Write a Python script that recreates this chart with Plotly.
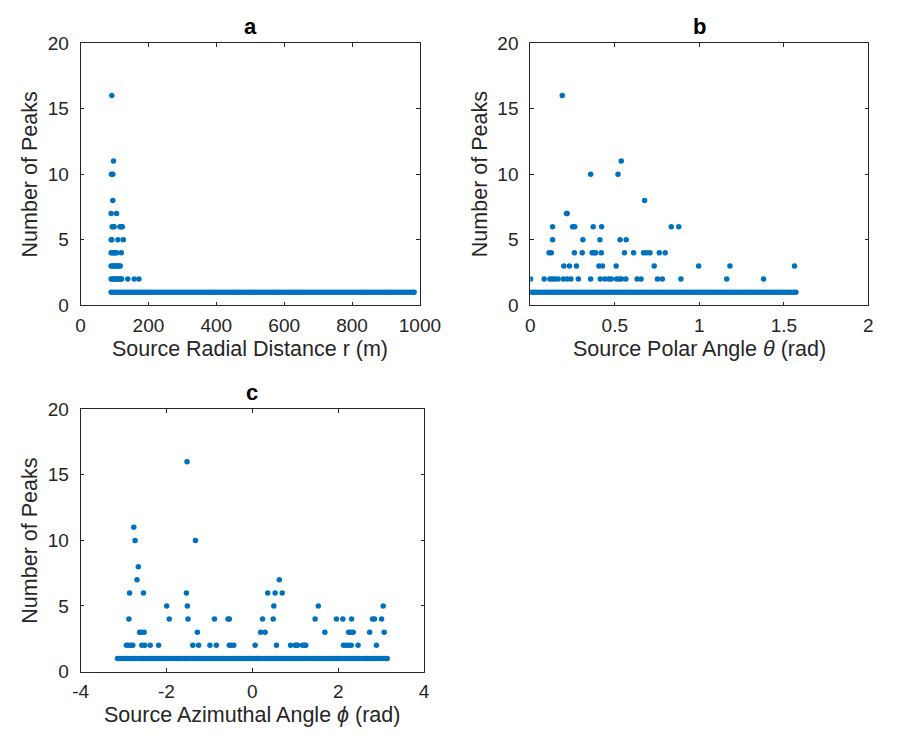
import plotly.graph_objects as go

# ---------------- data ----------------
# Panel a: source radial distance r (m) vs number of peaks
a_band_r = [90, 97, 104, 111, 118, 125, 132, 139, 146, 153, 160, 167, 174, 181, 188, 195, 202, 209, 216, 223,
            230, 237, 244, 251, 258, 265, 272, 279, 286, 293, 300, 307, 314, 321, 328, 335, 342, 349, 356, 363,
            370, 377, 384, 391, 398, 405, 412, 419, 426, 433, 440, 447, 454, 461, 468, 475, 482, 489, 496, 503,
            510, 517, 524, 531, 538, 545, 552, 559, 566, 573, 580, 587, 594, 601, 608, 615, 622, 629, 636, 643,
            650, 657, 664, 671, 678, 685, 692, 699, 706, 713, 720, 727, 734, 741, 748, 755, 762, 769, 776, 783,
            790, 797, 804, 811, 818, 825, 832, 839, 846, 853, 860, 867, 874, 881, 888, 895, 902, 909, 916, 923,
            930, 937, 944, 951, 958, 965, 972, 979, 983]
a_multi_r = [92, 97, 91, 95, 95, 90, 106,
             93, 96, 99, 116, 120, 123,
             90, 92, 110, 126,
             90, 94, 98, 102, 106, 120,
             90, 94, 98, 102, 106, 110, 114, 117,
             90, 94, 98, 102, 106, 110, 114, 118, 121, 139, 158, 172]
a_multi_n = [16, 11, 10, 10, 8, 7, 7,
             6, 6, 6, 6, 6, 6,
             5, 5, 5, 5,
             4, 4, 4, 4, 4, 4,
             3, 3, 3, 3, 3, 3, 3, 3,
             2, 2, 2, 2, 2, 2, 2, 2, 2, 2, 2, 2]

# Panel b: source polar angle theta (rad) vs number of peaks
b_band_theta = [0.000, 0.015, 0.030, 0.045, 0.060, 0.075, 0.090, 0.105, 0.120, 0.135, 0.150, 0.165, 0.180,
                0.195, 0.210, 0.225, 0.240, 0.255, 0.270, 0.285, 0.300, 0.315, 0.330, 0.345, 0.360, 0.375,
                0.390, 0.405, 0.420, 0.435, 0.450, 0.465, 0.480, 0.495, 0.510, 0.525, 0.540, 0.555, 0.570,
                0.585, 0.600, 0.615, 0.630, 0.645, 0.660, 0.675, 0.690, 0.705, 0.720, 0.735, 0.750, 0.765,
                0.780, 0.795, 0.810, 0.825, 0.840, 0.855, 0.870, 0.885, 0.900, 0.915, 0.930, 0.945, 0.960,
                0.975, 0.990, 1.005, 1.020, 1.035, 1.050, 1.065, 1.080, 1.095, 1.110, 1.125, 1.140, 1.155,
                1.170, 1.185, 1.200, 1.215, 1.230, 1.245, 1.260, 1.275, 1.290, 1.305, 1.320, 1.335, 1.350,
                1.365, 1.380, 1.395, 1.410, 1.425, 1.440, 1.455, 1.470, 1.485, 1.500, 1.515, 1.530, 1.545,
                1.560, 1.571]
b_multi_theta = [0.189, 0.538, 0.357, 0.519, 0.676, 0.214, 0.218,
                 0.132, 0.250, 0.263, 0.372, 0.422, 0.834, 0.878,
                 0.132, 0.311, 0.412, 0.531, 0.567,
                 0.111, 0.124, 0.261, 0.307, 0.366, 0.378, 0.387, 0.420, 0.557, 0.611, 0.670, 0.687, 0.708,
                 0.763, 0.798,
                 0.198, 0.231, 0.273, 0.406, 0.427, 0.508, 0.733, 0.996, 1.181, 1.563,
                 0.002, 0.082, 0.116, 0.130, 0.147, 0.164, 0.195, 0.218, 0.240, 0.284, 0.357, 0.414, 0.441,
                 0.464, 0.479, 0.510, 0.525, 0.540, 0.565, 0.632, 0.655, 0.752, 0.781, 0.891, 1.162, 1.380]
b_multi_n = [16, 11, 10, 10, 8, 7, 7,
             6, 6, 6, 6, 6, 6, 6,
             5, 5, 5, 5, 5,
             4, 4, 4, 4, 4, 4, 4, 4, 4, 4, 4, 4, 4, 4, 4,
             3, 3, 3, 3, 3, 3, 3, 3, 3, 3,
             2, 2, 2, 2, 2, 2, 2, 2, 2, 2, 2, 2, 2, 2, 2, 2, 2, 2, 2, 2, 2, 2, 2, 2, 2, 2]

# Panel c: source azimuthal angle phi (rad) vs number of peaks
c_band_phi = [-3.14, -3.08, -3.02, -2.96, -2.90, -2.84, -2.78, -2.72, -2.66, -2.60, -2.54, -2.48, -2.42,
              -2.36, -2.30, -2.24, -2.18, -2.12, -2.06, -2.00, -1.94, -1.88, -1.82, -1.76, -1.70, -1.64,
              -1.58, -1.52, -1.46, -1.40, -1.34, -1.28, -1.22, -1.16, -1.10, -1.04, -0.98, -0.92, -0.86,
              -0.80, -0.74, -0.68, -0.62, -0.56, -0.50, -0.44, -0.38, -0.32, -0.26, -0.20, -0.14, -0.08,
              -0.02, 0.04, 0.10, 0.16, 0.22, 0.28, 0.34, 0.40, 0.46, 0.52, 0.58, 0.64, 0.70, 0.76, 0.82,
              0.88, 0.94, 1.00, 1.06, 1.12, 1.18, 1.24, 1.30, 1.36, 1.42, 1.48, 1.54, 1.60, 1.66, 1.72,
              1.78, 1.84, 1.90, 1.96, 2.02, 2.08, 2.14, 2.20, 2.26, 2.32, 2.38, 2.44, 2.50, 2.56, 2.62,
              2.68, 2.74, 2.80, 2.86, 2.92, 2.98, 3.04, 3.10, 3.14]
c_multi_phi = [-1.521, -2.761, -2.731, -1.326, -2.656, -2.686, 0.627,
               -2.859, -2.536, -1.536, 0.357, 0.530, 0.695,
               -1.995, -1.514, 0.500, 1.536, 3.046,
               -2.874, -1.935, -1.499, -0.883, -0.567, -0.537, 0.237, 0.485, 1.461, 1.957, 2.107, 2.310,
               2.799, 2.844, 3.009,
               -2.626, -2.581, -2.521, -1.281, 0.192, 0.297, 1.687, 2.243, 2.290, 2.348, 2.731, 3.069,
               -2.934, -2.889, -2.829, -2.784, -2.573, -2.506, -2.378, -2.183, -1.386, -1.251, -0.988,
               -0.838, -0.537, -0.492, -0.432, 0.064, 0.560, 0.890, 0.995, 1.025, 1.055, 1.168, 1.213, 1.243,
               2.122, 2.182, 2.242, 2.302, 2.461, 2.889]
c_multi_n = [16, 11, 10, 10, 8, 7, 7,
             6, 6, 6, 6, 6, 6,
             5, 5, 5, 5, 5,
             4, 4, 4, 4, 4, 4, 4, 4, 4, 4, 4, 4, 4, 4, 4,
             3, 3, 3, 3, 3, 3, 3, 3, 3, 3, 3, 3,
             2, 2, 2, 2, 2, 2, 2, 2, 2, 2, 2, 2, 2, 2, 2, 2, 2, 2, 2, 2, 2, 2, 2, 2, 2, 2, 2, 2, 2, 2]

panel_titles = ["a", "b", "c"]
x_titles = ["Source Radial Distance r (m)",
            "Source Polar Angle <i>θ</i> (rad)",
            "Source Azimuthal Angle <i>ϕ</i> (rad)"]
y_title = "Number of Peaks"
b_tickvals = [0, 0.5, 1, 1.5, 2]
b_ticktext = ["0", "0.5", "1", "1.5", "2"]
c_tickvals = [-4, -2, 0, 2, 4]
c_ticktext = ["-4", "-2", "0", "2", "4"]

# ---------------- figure ----------------
W, H = 900, 736
COLOR = "#0072BD"
AX = "#262626"
FONT = "Liberation Sans, Arial, Helvetica, sans-serif"

def px_x(p):
    return p / W

def px_y(p):
    return 1 - p / H

fig = go.Figure()
marker = dict(color=COLOR, size=5.5, line=dict(width=0))

def add_panel(xs_band, xs_multi, ns_multi, xa, ya):
    xs = list(xs_band) + list(xs_multi)
    ys = [1] * len(xs_band) + list(ns_multi)
    fig.add_trace(go.Scatter(x=xs, y=ys, mode="markers", marker=marker,
                             xaxis=xa, yaxis=ya, showlegend=False, hoverinfo="skip"))

add_panel(a_band_r, a_multi_r, a_multi_n, "x", "y")
add_panel(b_band_theta, b_multi_theta, b_multi_n, "x2", "y2")
add_panel(c_band_phi, c_multi_phi, c_multi_n, "x3", "y3")

# panel pixel boxes (left, right, top, bottom)
boxes = [(75, 425.6, 34, 304), (539.7, 889, 34, 304), (75, 430, 411, 681)]

axis_common = dict(showline=True, linecolor=AX, linewidth=1, mirror="allticks",
                   ticks="inside", ticklen=3.5, tickwidth=1, tickcolor=AX,
                   showgrid=False, zeroline=False,
                   tickfont=dict(family=FONT, size=19, color=AX))

x_ranges = [[0, 1000], [0, 2], [-4, 4]]

layout = dict(width=W, height=H, margin=dict(l=0, r=0, t=0, b=0),
              paper_bgcolor="white", plot_bgcolor="white",
              font=dict(family=FONT, color=AX))

for i, (l, r, t, b) in enumerate(boxes):
    sfx = "" if i == 0 else str(i + 1)
    xa = dict(axis_common, domain=[px_x(l), px_x(r)], range=x_ranges[i],
              anchor="y" + sfx, ticklabelstandoff=3)
    if i == 0:
        xa.update(dtick=200, tick0=0)
    elif i == 1:
        xa.update(tickmode="array", tickvals=b_tickvals, ticktext=b_ticktext)
    else:
        xa.update(tickmode="array", tickvals=c_tickvals, ticktext=c_ticktext)
    ya = dict(axis_common, domain=[px_y(b), px_y(t)], range=[0, 20], dtick=5,
              anchor="x" + sfx, ticklabelstandoff=7)
    layout["xaxis" + sfx] = xa
    layout["yaxis" + sfx] = ya

annotations = []
for i, (l, r, t, b) in enumerate(boxes):
    cx = (l + r) / 2
    annotations.append(dict(text="<b>%s</b>" % panel_titles[i], x=px_x(cx), y=px_y(t - 17),
                            xref="paper", yref="paper", showarrow=False,
                            xanchor="center", yanchor="middle",
                            font=dict(family=FONT, size=22, color="black")))
    annotations.append(dict(text=x_titles[i], x=px_x(cx), y=px_y(b + 45),
                            xref="paper", yref="paper", showarrow=False,
                            xanchor="center", yanchor="middle",
                            font=dict(family=FONT, size=21.5, color=AX)))
    annotations.append(dict(text=y_title, x=px_x(l - 52), y=px_y((t + b) / 2),
                            xref="paper", yref="paper", showarrow=False, textangle=-90,
                            xanchor="center", yanchor="middle",
                            font=dict(family=FONT, size=21.5, color=AX)))
layout["annotations"] = annotations

fig.update_layout(**layout)
fig.write_html("out.html")
